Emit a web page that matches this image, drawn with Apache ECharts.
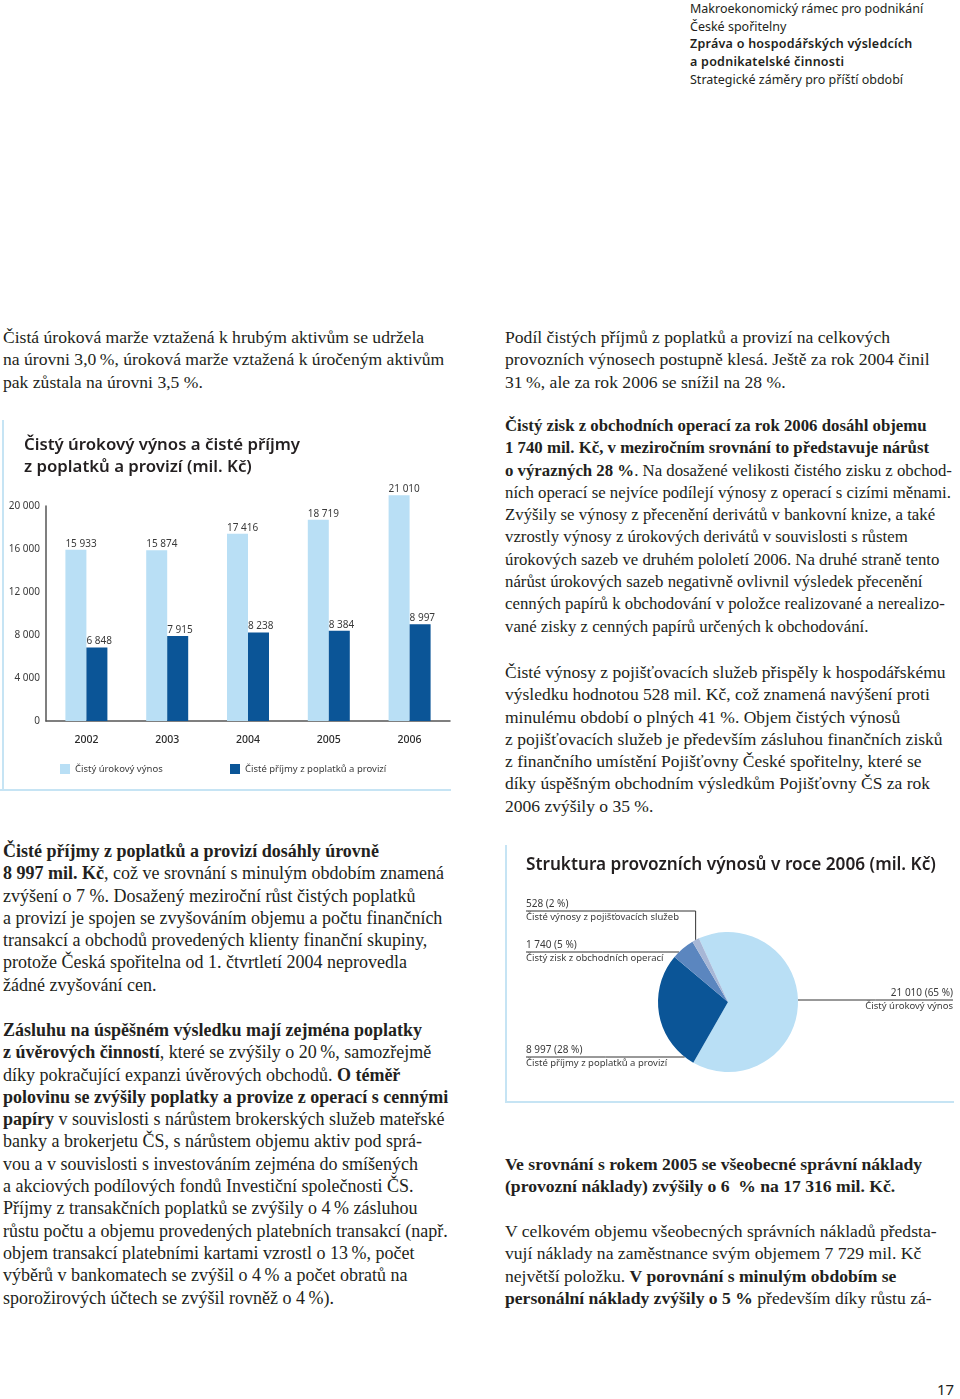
<!DOCTYPE html>
<html><head><meta charset="utf-8">
<script src="https://cdn.jsdelivr.net/npm/echarts@6/dist/echarts.min.js"></script>
<style>
html,body{margin:0;padding:0;background:#fff;width:960px;height:1399px;overflow:hidden;}
.t{position:absolute;font-family:"Liberation Serif","Times New Roman",serif;font-size:17.6px;line-height:22.3px;color:#231f20;white-space:nowrap;}
.h{position:absolute;left:690px;top:0;font-family:"Noto Sans",sans-serif;font-size:12.5px;line-height:17.7px;color:#231f20;white-space:nowrap;}
.h b{font-weight:600;letter-spacing:0.25px;}
#bar{position:absolute;left:0;top:420px;width:460px;height:380px;}
#pie{position:absolute;left:505px;top:840px;width:455px;height:265px;}
.vl{position:absolute;background:#c6e4f4;}
</style></head><body>
<div class="h">Makroekonomický rámec pro podnikání<br>České spořitelny<br><b>Zpráva o hospodářských výsledcích<br>a podnikatelské činnosti</b><br>Strategické záměry pro příští období</div>

<div class="t" style="left:3px;top:326px">Čistá úroková marže vztažená k hrubým aktivům se udržela<br>na úrovni 3,0&#8201;%, úroková marže vztažená k úročeným aktivům<br>pak zůstala na úrovni 3,5 %.</div>
<div class="t" style="left:505px;top:326px">Podíl čistých příjmů z poplatků a provizí na celkových<br>provozních výnosech postupně klesá. Ještě za rok 2004 činil<br>31&#8201;%, ale za rok 2006 se snížil na 28 %.</div>

<div class="t" style="left:505px;top:415px;font-size:16.8px"><b>Čistý zisk z obchodních operací za rok 2006 dosáhl objemu<br>1 740 mil. Kč, v meziročním srovnání to představuje nárůst<br>o výrazných 28 %</b>. Na dosažené velikosti čistého zisku z obchod-<br>ních operací se nejvíce podílejí výnosy z operací s cizími měnami.<br>Zvýšily se výnosy z přecenění derivátů v bankovní knize, a také<br>vzrostly výnosy z úrokových derivátů v souvislosti s růstem<br>úrokových sazeb ve druhém pololetí 2006. Na druhé straně tento<br>nárůst úrokových sazeb negativně ovlivnil výsledek přecenění<br>cenných papírů k obchodování v položce realizované a nerealizo-<br>vané zisky z cenných papírů určených k obchodování.</div>

<div class="t" style="left:505px;top:661px;font-size:17.5px">Čisté výnosy z pojišťovacích služeb přispěly k hospodářskému<br>výsledku hodnotou 528 mil. Kč, což znamená navýšení proti<br>minulému období o plných 41 %. Objem čistých výnosů<br>z pojišťovacích služeb je především zásluhou finančních zisků<br>z finančního umístění Pojišťovny České spořitelny, které se<br>díky úspěšným obchodním výsledkům Pojišťovny ČS za rok<br>2006 zvýšily o 35 %.</div>

<div class="t" style="left:3px;top:840px;font-size:18px"><b>Čisté příjmy z poplatků a provizí dosáhly úrovně<br>8 997 mil. Kč</b>, což ve srovnání s minulým obdobím znamená<br>zvýšení o 7 %. Dosažený meziroční růst čistých poplatků<br>a provizí je spojen se zvyšováním objemu a počtu finančních<br>transakcí a obchodů provedených klienty finanční skupiny,<br>protože Česká spořitelna od 1. čtvrtletí 2004 neprovedla<br>žádné zvyšování cen.</div>

<div class="t" style="left:3px;top:1019px;font-size:18px"><b>Zásluhu na úspěšném výsledku mají zejména poplatky<br>z úvěrových činností</b>, které se zvýšily o 20&#8201;%, samozřejmě<br>díky pokračující expanzi úvěrových obchodů. <b>O téměř<br>polovinu se zvýšily poplatky a provize z operací s cennými<br>papíry</b> v souvislosti s nárůstem brokerských služeb mateřské<br>banky a brokerjetu ČS, s nárůstem objemu aktiv pod sprá-<br>vou a v souvislosti s investováním zejména do smíšených<br>a akciových podílových fondů Investiční společnosti ČS.<br>Příjmy z transakčních poplatků se zvýšily o 4&#8201;% zásluhou<br>růstu počtu a objemu provedených platebních transakcí (např.<br>objem transakcí platebními kartami vzrostl o 13&#8201;%, počet<br>výběrů v bankomatech se zvýšil o 4&#8201;% a počet obratů na<br>sporožirových účtech se zvýšil rovněž o 4&#8201;%).</div>

<div class="t" style="left:505px;top:1153px"><b>Ve srovnání s rokem 2005 se všeobecné správní náklady<br>(provozní náklady) zvýšily o 6 &nbsp;% na 17 316 mil. Kč.</b></div>
<div class="t" style="left:505px;top:1220px">V celkovém objemu všeobecných správních nákladů předsta-<br>vují náklady na zaměstnance svým objemem 7 729 mil. Kč<br>největší položku. <b>V porovnání s minulým obdobím se<br>personální náklady zvýšily o 5 %</b> především díky růstu zá-</div>

<div style="position:absolute;left:937px;top:1379px;font-family:'Noto Sans',sans-serif;font-size:15px;color:#231f20">17</div>

<div class="vl" style="left:2px;top:420px;width:2px;height:370px"></div>
<div class="vl" style="left:0px;top:789px;width:451px;height:2px"></div>
<div class="vl" style="left:505px;top:845px;width:2px;height:258px"></div>
<div class="vl" style="left:505px;top:1101px;width:449px;height:2px"></div>

<div id="bar"></div>
<div id="pie"></div>

<script>
const years = ['2002', '2003', '2004', '2005', '2006'];
const netInterestIncome = [15933, 15874, 17416, 18719, 21010];
const netFeeIncome = [6848, 7915, 8238, 8384, 8997];

const pieNames = ['Čistý úrokový výnos', 'Čisté příjmy z poplatků a provizí', 'Čistý zisk z obchodních operací', 'Čisté výnosy z pojišťovacích služeb'];
const pieValues = [21010, 8997, 1740, 528];

const LIGHT = '#b9dff5', DARK = '#0b5597', MID = '#5b86bf', GREYBLUE = '#a7b7d6';
const FONT = '"Noto Sans", sans-serif';
function fmt(v) { return String(v).replace(/\B(?=(\d{3})+(?!\d))/g, ' '); }

const bar = echarts.init(document.getElementById('bar'), null, {renderer: 'canvas'});
const barLabel = {
  show: true, position: [0, -1], align: 'left', verticalAlign: 'bottom',
  fontFamily: FONT, fontSize: 10, color: '#3a3a3a',
  formatter: p => fmt(p.value)
};
bar.setOption({
  animation: false,
  title: {
    text: 'Čistý úrokový výnos a čisté příjmy\nz poplatků a provizí (mil. Kč)',
    left: 19, top: 9,
    textStyle: {fontFamily: FONT, fontSize: 16.8, fontWeight: 600, color: '#231f20', lineHeight: 22}
  },
  legend: [
    {data: ['Čistý úrokový výnos'], left: 55, top: 339, itemWidth: 10, itemHeight: 10, icon: 'rect',
     textStyle: {fontFamily: FONT, fontSize: 9.5, color: '#3a3a3a'}},
    {data: ['Čisté příjmy z poplatků a provizí'], left: 225, top: 339, itemWidth: 10, itemHeight: 10, icon: 'rect',
     textStyle: {fontFamily: FONT, fontSize: 9.5, color: '#3a3a3a'}}
  ],
  grid: {left: 46, right: 10, top: 86, bottom: 79},
  xAxis: {
    type: 'category', data: years,
    axisLine: {lineStyle: {color: '#555', width: 1.5}},
    axisTick: {show: false},
    axisLabel: {fontFamily: FONT, fontSize: 10.5, fontWeight: 500, color: '#2a2a2a', margin: 14}
  },
  yAxis: {
    type: 'value', min: 0, max: 20000, interval: 4000,
    axisLine: {show: true, lineStyle: {color: '#555', width: 1.5}},
    axisTick: {show: false},
    splitLine: {show: false},
    axisLabel: {fontFamily: FONT, fontSize: 10, color: '#3a3a3a', margin: 6, formatter: v => fmt(v)}
  },
  series: [
    {name: 'Čistý úrokový výnos', type: 'bar', data: netInterestIncome, barWidth: 21, barGap: '0%',
     itemStyle: {color: LIGHT}, label: barLabel, clip: false},
    {name: 'Čisté příjmy z poplatků a provizí', type: 'bar', data: netFeeIncome, barWidth: 21,
     itemStyle: {color: DARK}, label: barLabel, clip: false}
  ]
});

const pie = echarts.init(document.getElementById('pie'), null, {renderer: 'canvas'});
const CX = 223, CY = 162, R = 70;
const labelAnchors = [
  {x: 448, y: 160, side: 'right'},
  {x: 21, y: 217, side: 'left'},
  {x: 21, y: 112, side: 'left'},
  {x: 21, y: 71, side: 'left', elbow: true}
];
pie.setOption({
  animation: false,
  title: {
    text: 'Struktura provozních výnosů v roce 2006 (mil. Kč)',
    left: 16, top: 12,
    textStyle: {fontFamily: FONT, fontSize: 17.2, fontWeight: 600, color: '#231f20'}
  },
  series: [{
    type: 'pie', center: [CX, CY], radius: R, startAngle: 114.6, clockwise: true,
    data: pieNames.map((n, i) => ({
      name: n, value: pieValues[i],
      itemStyle: {color: [LIGHT, DARK, MID, GREYBLUE][i]}
    })),
    label: {
      show: true, position: 'outside', overflow: 'none', width: 300,
      formatter: p => '{a|' + fmt(p.value) + ' (' + Math.round(p.percent) + ' %)}\n{b|' + p.name + '}',
      rich: {
        a: {fontFamily: FONT, fontSize: 10, color: '#3a3a3a', lineHeight: 13},
        b: {fontFamily: FONT, fontSize: 9.5, color: '#3a3a3a', lineHeight: 13}
      }
    },
    labelLine: {show: true, smooth: false, lineStyle: {color: '#333', width: 1}},
    labelLayout: function (params) {
      const a = labelAnchors[params.dataIndex];
      const dy = a.y - CY;
      const dx = Math.sqrt(Math.max(0, R * R - dy * dy));
      let pts;
      if (a.elbow) {
        const e = params.labelLinePoints ? params.labelLinePoints[0] : [CX - dx, a.y];
        pts = [[e[0], e[1]], [e[0], a.y], [a.x, a.y]];
      } else if (a.side === 'right') {
        pts = [[CX + dx, a.y], [(CX + dx + a.x) / 2, a.y], [a.x, a.y]];
      } else {
        pts = [[CX - dx, a.y], [(CX - dx + a.x) / 2, a.y], [a.x, a.y]];
      }
      return {
        x: a.x, y: a.y, align: a.side === 'right' ? 'right' : 'left', verticalAlign: 'middle',
        labelLinePoints: pts
      };
    }
  }]
});
</script>
</body></html>
